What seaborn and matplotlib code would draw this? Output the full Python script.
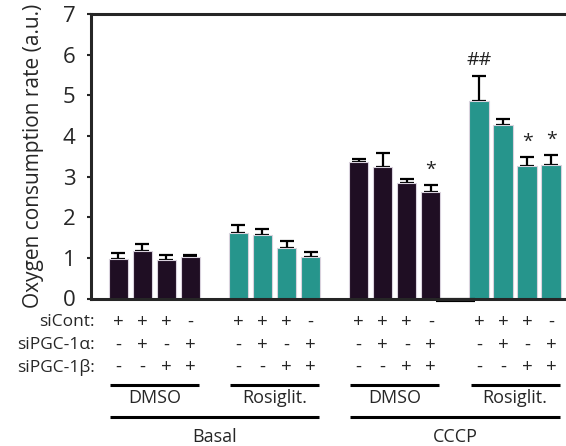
import matplotlib
matplotlib.use("Agg")
import matplotlib.pyplot as plt
import seaborn as sns
import pandas as pd

# bar slots (gaps between groups)
slots = [0, 1, 2, 3, 5, 6, 7, 8, 10, 11, 12, 13, 15, 16, 17, 18]
treatment = ["DMSO"] * 4 + ["Rosiglit."] * 4 + ["DMSO"] * 4 + ["Rosiglit."] * 4

basal_dmso = [0.98, 1.16, 0.94, 1.01]
basal_rosi = [1.60, 1.56, 1.25, 1.03]
cccp_dmso = [3.36, 3.23, 2.84, 2.63]
cccp_rosi = [4.87, 4.26, 3.25, 3.29]

basal_dmso_err = [0.13, 0.19, 0.12, 0.05]
basal_rosi_err = [0.20, 0.16, 0.16, 0.11]
cccp_dmso_err = [0.07, 0.36, 0.11, 0.17]
cccp_rosi_err = [0.61, 0.16, 0.22, 0.23]

# significance marks: bar index -> label
marks = {11: "*", 12: "##", 14: "*", 15: "*"}

si_cont = ["+", "+", "+", "-"] * 4
si_pgc1a = ["-", "+", "-", "+"] * 4
si_pgc1b = ["-", "-", "+", "+"] * 4
row_labels = ["siCont:", "siPGC-1α:", "siPGC-1β:"]
group_labels = ["DMSO", "Rosiglit.", "DMSO", "Rosiglit."]
cond_labels = ["Basal", "CCCP"]

values = basal_dmso + basal_rosi + cccp_dmso + cccp_rosi
errs = basal_dmso_err + basal_rosi_err + cccp_dmso_err + cccp_rosi_err
df = pd.DataFrame({"slot": slots, "value": values, "err": errs, "treatment": treatment})

dark = "#210a26"
teal = "#13a89c"

sns.set_style("ticks")
plt.rcParams["font.family"] = ["Open Sans", "DejaVu Sans"]

fig = plt.figure(figsize=(5.66, 4.46), dpi=100)
ax = fig.add_axes([91 / 566, 1 - 298.5 / 446, 1 - 91 / 566, 284.5 / 446])

sns.barplot(data=df, x="slot", y="value", hue="treatment",
            palette={"DMSO": dark, "Rosiglit.": teal}, native_scale=True,
            dodge=False, width=0.8, errorbar=None, legend=False,
            edgecolor="#d9d2dd", linewidth=0.8, ax=ax, zorder=2)

ax.errorbar(df["slot"], df["value"], yerr=[[0] * len(df), df["err"]], fmt="none",
            ecolor="black", elinewidth=1.6, capsize=4.7, capthick=1.6, zorder=1)

for i, lab in marks.items():
    ax.annotate(lab, (slots[i], values[i] + errs[i]), xytext=(0, 11),
                textcoords="offset points", ha="center", va="center",
                fontsize=14, color="#222222")

ax.set_xlim(-1.13, 18.62)
ax.set_ylim(0, 7)
ax.set_yticks(range(0, 8))
ax.tick_params(axis="y", direction="out", length=3, width=1.5, pad=8, labelsize=16)
ax.tick_params(axis="x", bottom=False, labelbottom=False)
ax.set_xlabel("")
ax.set_ylabel("Oxygen consumption rate (a.u.)", fontsize=15)
ax.yaxis.set_label_coords(-0.099, 0.5)
for s in ["left", "bottom", "top"]:
    ax.spines[s].set_linewidth(2.2)
ax.spines["right"].set_visible(False)

# small thick piece under the gap
ax.plot([13.23, 14.85], [-0.007, -0.007], transform=ax.get_xaxis_transform(),
        color="black", lw=3, clip_on=False, solid_capstyle="butt")

# table under the plot
trans = ax.get_xaxis_transform()
row_y = [-0.0826, -0.163, -0.241]
for ry, lab, syms in zip(row_y, row_labels, [si_cont, si_pgc1a, si_pgc1b]):
    ax.text(-0.98, ry, lab, transform=trans, ha="right", va="center", fontsize=12.5)
    for x, s in zip(slots, syms):
        ax.text(x, ry, s, transform=trans, ha="center", va="center", fontsize=13.5)

for g, lab in enumerate(group_labels):
    x0, x1 = slots[g * 4] - 0.35, slots[g * 4 + 3] + 0.35
    ax.plot([x0, x1], [-0.304, -0.304], transform=trans, color="black",
            lw=2.2, clip_on=False, solid_capstyle="butt")
    ax.text((x0 + x1) / 2, -0.35, lab, transform=trans, ha="center",
            va="center", fontsize=13)

for c, lab in enumerate(cond_labels):
    x0, x1 = slots[c * 8] - 0.35, slots[c * 8 + 7] + 0.35
    ax.plot([x0, x1], [-0.4165, -0.4165], transform=trans, color="black",
            lw=2.2, clip_on=False, solid_capstyle="butt")
    ax.text((x0 + x1) / 2, -0.487, lab, transform=trans, ha="center",
            va="center", fontsize=13)

fig.savefig("out.png", dpi=100)
